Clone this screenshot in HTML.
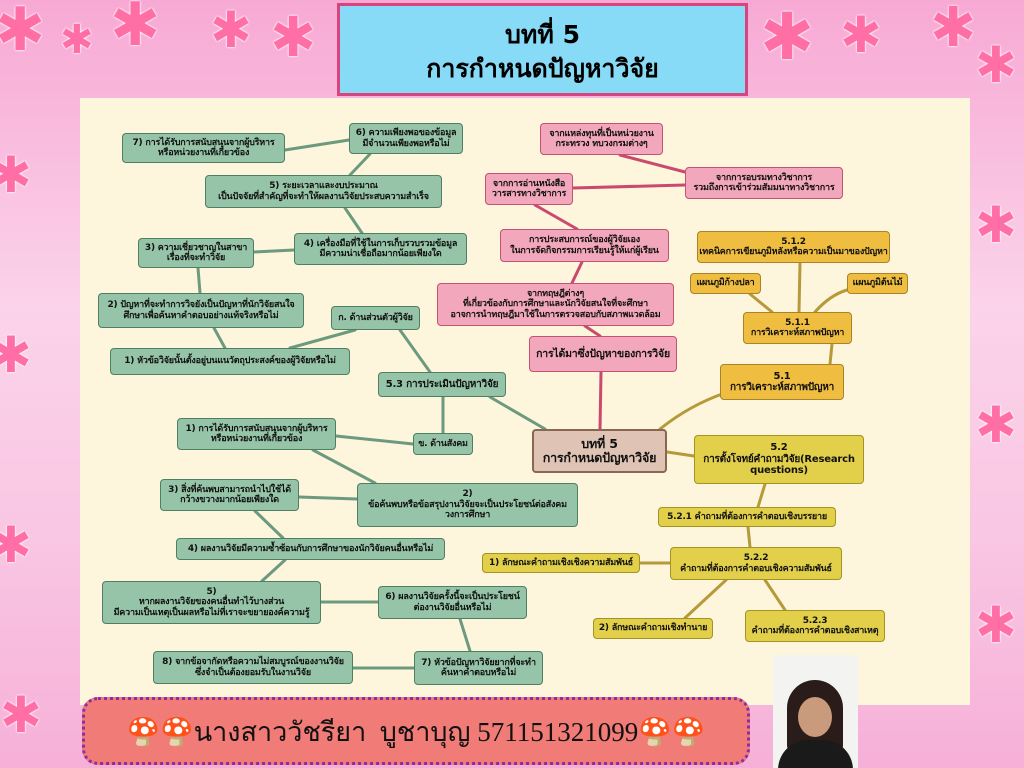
<!DOCTYPE html>
<html><head><meta charset="utf-8"><style>
body{margin:0;width:1024px;height:768px;overflow:hidden;position:relative;font-family:"DejaVu Sans","Liberation Sans",sans-serif;
background:linear-gradient(180deg,#f7a9d4 0%,#fbd3ea 40%,#f9c6e3 70%,#f6b0d8 100%);}
.f{position:absolute;color:#ff6fa6;font-size:60px;line-height:1;text-shadow:0 0 2px #fff,0 0 2px #fff}
#panel{position:absolute;left:80px;top:98px;width:890px;height:607px;background:#fdf5dc}
.n{position:absolute;box-sizing:border-box;border-radius:4px;display:flex;align-items:center;justify-content:center;text-align:center;font-weight:bold;font-size:9px;line-height:1.15;color:#111;letter-spacing:-0.2px}
.g{background:#96c4a8;border:1px solid #4f7f62}
.p{background:#f3a7bd;border:1px solid #c45272}
.o{background:#efbd40;border:1px solid #a9822a}
.y{background:#e2cf4a;border:1px solid #a29324}
svg{position:absolute;left:0;top:0}
</style></head><body>
<div class="f" style="left:-5px;top:0">✱</div><div class="f" style="left:60px;top:20px;font-size:40px">✱</div>
<div class="f" style="left:110px;top:-5px">✱</div><div class="f" style="left:210px;top:5px;font-size:50px">✱</div>
<div class="f" style="left:270px;top:10px;font-size:55px">✱</div>
<div class="f" style="left:760px;top:5px;font-size:65px">✱</div><div class="f" style="left:840px;top:10px;font-size:50px">✱</div>
<div class="f" style="left:930px;top:0;font-size:55px">✱</div><div class="f" style="left:975px;top:40px;font-size:50px">✱</div>
<div class="f" style="left:-10px;top:150px;font-size:50px">✱</div><div class="f" style="left:-10px;top:330px;font-size:50px">✱</div>
<div class="f" style="left:-10px;top:520px;font-size:50px">✱</div><div class="f" style="left:975px;top:200px;font-size:50px">✱</div>
<div class="f" style="left:975px;top:400px;font-size:50px">✱</div><div class="f" style="left:975px;top:600px;font-size:50px">✱</div>
<div class="f" style="left:860px;top:660px;font-size:50px">✱</div><div class="f" style="left:0;top:690px;font-size:50px">✱</div>
<div id="panel"></div>
<div style="position:absolute;left:337px;top:3px;width:411px;height:93px;box-sizing:border-box;background:#87dbf6;border:3px solid #d9437e;text-align:center;font-weight:bold;font-size:25px;line-height:34px;padding-top:12px;color:#000">บทที่ 5<br>การกำหนดปัญหาวิจัย</div>
<svg width="1024" height="768"><g stroke-width="3" fill="none" stroke-linecap="round">
<g stroke="#6c9a7e">
<line x1="285" y1="150" x2="349" y2="140"/><line x1="370" y1="154" x2="350" y2="175"/><line x1="345" y1="208" x2="362" y2="233"/>
<line x1="294" y1="250" x2="254" y2="252"/><line x1="198" y1="268" x2="200" y2="293"/><line x1="214" y1="328" x2="225" y2="348"/>
<line x1="290" y1="348" x2="355" y2="330"/><line x1="400" y1="330" x2="430" y2="372"/><line x1="490" y1="397" x2="545" y2="429"/>
<line x1="443" y1="397" x2="443" y2="433"/><line x1="413" y1="444" x2="336" y2="436"/><line x1="313" y1="450" x2="375" y2="483"/>
<line x1="357" y1="499" x2="299" y2="497"/><line x1="255" y1="511" x2="283" y2="538"/><line x1="285" y1="560" x2="262" y2="581"/>
<line x1="321" y1="602" x2="378" y2="602"/><line x1="460" y1="619" x2="470" y2="651"/><line x1="414" y1="668" x2="353" y2="668"/></g>
<g stroke="#c94a6e"><line x1="600" y1="429" x2="601" y2="372"/><line x1="600" y1="336" x2="585" y2="326"/><line x1="572" y1="283" x2="582" y2="262"/>
<line x1="577" y1="229" x2="535" y2="205"/><line x1="573" y1="188" x2="685" y2="185"/><line x1="620" y1="155" x2="685" y2="172"/></g>
<g stroke="#b69a3a"><line x1="667" y1="452" x2="694" y2="456"/><line x1="765" y1="484" x2="758" y2="507"/><line x1="748" y1="527" x2="750" y2="547"/>
<line x1="670" y1="563" x2="640" y2="563"/><line x1="726" y1="580" x2="685" y2="618"/><line x1="765" y1="580" x2="785" y2="610"/>
<path d="M660 429 Q690 405 725 393"/><line x1="830" y1="364" x2="832" y2="344"/><line x1="799" y1="312" x2="800" y2="263"/>
<line x1="772" y1="312" x2="750" y2="294"/><path d="M815 312 Q830 295 847 290"/></g>
</g></svg>
<div class="n g" style="left:122px;top:133px;width:163px;height:30px">7) การได้รับการสนับสนุนจากผู้บริหาร<br>หรือหน่วยงานที่เกี่ยวข้อง</div>
<div class="n g" style="left:349px;top:123px;width:114px;height:31px">6) ความเพียงพอของข้อมูล<br>มีจำนวนเพียงพอหรือไม่</div>
<div class="n g" style="left:205px;top:175px;width:237px;height:33px">5) ระยะเวลาและงบประมาณ<br>เป็นปัจจัยที่สำคัญที่จะทำให้ผลงานวิจัยประสบความสำเร็จ</div>
<div class="n g" style="left:294px;top:233px;width:173px;height:32px">4) เครื่องมือที่ใช้ในการเก็บรวบรวมข้อมูล<br>มีความน่าเชื่อถือมากน้อยเพียงใด</div>
<div class="n g" style="left:138px;top:238px;width:116px;height:30px">3) ความเชี่ยวชาญในสาขา<br>เรื่องที่จะทำวิจัย</div>
<div class="n g" style="left:98px;top:293px;width:206px;height:35px">2) ปัญหาที่จะทำการวิจยังเป็นปัญหาที่นักวิจัยสนใจ<br>ศึกษาเพื่อค้นหาคำตอบอย่างแท้จริงหรือไม่</div>
<div class="n g" style="left:331px;top:306px;width:89px;height:24px">ก. ด้านส่วนตัวผู้วิจัย</div>
<div class="n g" style="left:110px;top:348px;width:240px;height:27px">1) หัวข้อวิจัยนั้นตั้งอยู่บนแนวัตถุประสงค์ของผู้วิจัยหรือไม่</div>
<div class="n g" style="left:378px;top:372px;width:128px;height:25px;font-size:10px">5.3 การประเมินปัญหาวิจัย</div>
<div class="n g" style="left:413px;top:433px;width:60px;height:22px">ข. ด้านสังคม</div>
<div class="n g" style="left:177px;top:418px;width:159px;height:32px">1) การได้รับการสนับสนุนจากผู้บริหาร<br>หรือหน่วยงานที่เกี่ยวข้อง</div>
<div class="n g" style="left:357px;top:483px;width:221px;height:44px">2)<br>ข้อค้นพบหรือข้อสรุปงานวิจัยจะเป็นประโยชน์ต่อสังคม<br>วงการศึกษา</div>
<div class="n g" style="left:160px;top:479px;width:139px;height:32px">3) สิ่งที่ค้นพบสามารถนำไปใช้ได้<br>กว้างขวางมากน้อยเพียงใด</div>
<div class="n g" style="left:176px;top:538px;width:269px;height:22px">4) ผลงานวิจัยมีความซ้ำซ้อนกับการศึกษาของนักวิจัยคนอื่นหรือไม่</div>
<div class="n g" style="left:102px;top:581px;width:219px;height:43px">5)<br>หากผลงานวิจัยของคนอื่นทำไว้บางส่วน<br>มีความเป็นเหตุเป็นผลหรือไม่ที่เราจะขยายองค์ความรู้</div>
<div class="n g" style="left:378px;top:586px;width:149px;height:33px">6) ผลงานวิจัยครั้งนี้จะเป็นประโยชน์<br>ต่องานวิจัยอื่นหรือไม่</div>
<div class="n g" style="left:414px;top:651px;width:129px;height:34px">7) หัวข้อปัญหาวิจัยยากที่จะทำ<br>ค้นหาคำตอบหรือไม่</div>
<div class="n g" style="left:153px;top:651px;width:200px;height:33px">8) จากข้อจากัดหรือความไม่สมบูรณ์ของงานวิจัย<br>ซึ่งจำเป็นต้องยอมรับในงานวิจัย</div>
<div class="n p" style="left:540px;top:123px;width:123px;height:32px">จากแหล่งทุนที่เป็นหน่วยงาน<br>กระทรวง ทบวงกรมต่างๆ</div>
<div class="n p" style="left:685px;top:167px;width:158px;height:32px">จากการอบรมทางวิชาการ<br>รวมถึงการเข้าร่วมสัมมนาทางวิชาการ</div>
<div class="n p" style="left:485px;top:173px;width:88px;height:32px">จากการอ่านหนังสือ<br>วารสารทางวิชาการ</div>
<div class="n p" style="left:500px;top:229px;width:169px;height:33px">การประสบการณ์ของผู้วิจัยเอง<br>ในการจัดกิจกรรมการเรียนรู้ให้แก่ผู้เรียน</div>
<div class="n p" style="left:437px;top:283px;width:237px;height:43px">จากทฤษฎีต่างๆ<br>ที่เกี่ยวข้องกับการศึกษาและนักวิจัยสนใจที่จะศึกษา<br>อาจการนำทฤษฎีมาใช้ในการตรวจสอบกับสภาพแวดล้อม</div>
<div class="n p" style="left:529px;top:336px;width:148px;height:36px;font-size:10.5px">การได้มาซึ่งปัญหาของการวิจัย</div>
<div class="n" style="left:532px;top:429px;width:135px;height:44px;background:#dfc3b4;border:2px solid #8a6655;font-size:12.5px">บทที่ 5<br>การกำหนดปัญหาวิจัย</div>
<div class="n o" style="left:697px;top:231px;width:193px;height:32px">5.1.2<br>เทคนิคการเขียนภูมิหลังหรือความเป็นมาของปัญหา</div>
<div class="n o" style="left:690px;top:273px;width:71px;height:21px">แผนภูมิก้างปลา</div>
<div class="n o" style="left:847px;top:273px;width:61px;height:21px">แผนภูมิต้นไม้</div>
<div class="n o" style="left:743px;top:312px;width:109px;height:32px">5.1.1<br>การวิเคราะห์สภาพปัญหา</div>
<div class="n o" style="left:720px;top:364px;width:124px;height:36px;font-size:10px">5.1<br>การวิเคราะห์สภาพปัญหา</div>
<div class="n y" style="left:694px;top:435px;width:170px;height:49px;font-size:10px">5.2<br>การตั้งโจทย์คำถามวิจัย(Research<br>questions)</div>
<div class="n y" style="left:658px;top:507px;width:178px;height:20px">5.2.1 คำถามที่ต้องการคำตอบเชิงบรรยาย</div>
<div class="n y" style="left:670px;top:547px;width:172px;height:33px">5.2.2<br>คำถามที่ต้องการคำตอบเชิงความสัมพันธ์</div>
<div class="n y" style="left:482px;top:553px;width:158px;height:20px">1) ลักษณะคำถามเชิงเชิงความสัมพันธ์</div>
<div class="n y" style="left:593px;top:618px;width:120px;height:21px">2) ลักษณะคำถามเชิงทำนาย</div>
<div class="n y" style="left:745px;top:610px;width:140px;height:32px">5.2.3<br>คำถามที่ต้องการคำตอบเชิงสาเหตุ</div>
<div style="position:absolute;left:82px;top:697px;width:668px;height:68px;box-sizing:border-box;background:#f07b77;border:3px dotted #8a2fa0;border-radius:16px;display:flex;align-items:center;justify-content:center;font-size:27px;color:#111;font-family:'Liberation Serif','DejaVu Serif',serif">🍄🍄นางสาววัชรียา&nbsp; บูชาบุญ 571151321099🍄🍄</div>
<div style="position:absolute;left:773px;top:655px;width:85px;height:113px;background:#f3f4f2;overflow:hidden">
<div style="position:absolute;left:14px;top:25px;width:56px;height:70px;border-radius:28px 28px 4px 4px;background:#2a1c18"></div>
<div style="position:absolute;left:25px;top:42px;width:34px;height:40px;border-radius:50%;background:#c99a7c"></div>
<div style="position:absolute;left:5px;top:85px;width:75px;height:40px;border-radius:30px 30px 0 0;background:#1a1a1a"></div></div>
</body></html>
